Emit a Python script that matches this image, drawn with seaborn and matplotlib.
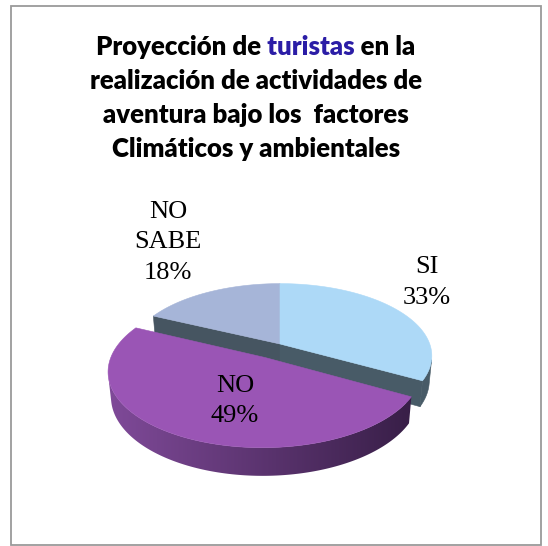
import numpy as np
import matplotlib
matplotlib.use("Agg")
import matplotlib.pyplot as plt
import seaborn as sns
from matplotlib.patches import Polygon, Rectangle
from matplotlib.transforms import Bbox, TransformedBbox

# ---------------- data ----------------
categories = ["SI", "NO", "NO\nSABE"]
values = [33, 49, 18]
title_lines = [
    "Proyección de turistas en la",
    "realización de actividades de",
    "aventura bajo los  factores",
    "Climáticos y ambientales",
]
highlight_word = "turistas"

# ---------------- style ----------------
top_colors = ["#ADD9F7", "#9A55B5", "#A6B5D8"]
wall_colors = ["#485B67", None, "#465561"]   # None -> gradient
grad_left, grad_right = (0.50, 0.29, 0.60), (0.22, 0.12, 0.28)
explode = [0.0, 0.21, 0.0]
label_pos = [(427, 273), (235, 392), (168, 218)]   # centre x, first baseline (px)

sns.set_theme(style="white")
plt.rcParams["font.family"] = ["Liberation Serif", "DejaVu Serif"]

W, H = 548, 546
fig = plt.figure(figsize=(W / 100, H / 100), dpi=100)
ax = fig.add_axes([0, 0, 1, 1])
ax.set_xlim(0, W)
ax.set_ylim(H, 0)
ax.axis("off")

# frame
ax.add_patch(Rectangle((10.5, 5.5), 530.5, 539.5, fill=False,
                       edgecolor="#9a9a9a", lw=1.3))

# ---------------- 3D perspective pie ----------------
cx, cy = 280.0, 344.0
phi = np.radians(28.0)
D = 5.376
f = 805.0
h = 0.188
cph, sph = np.cos(phi), np.sin(phi)
cam = np.array([0.0, -D * cph, D * sph])


def proj(X, Y, Z):
    qy = Y + D * cph
    qz = Z - D * sph
    depth = qy * cph - qz * sph
    up = qy * sph + qz * cph
    return cx + f * X / depth, cy - f * up / depth


def poly(pts, color, z, lw=0.4):
    p = Polygon(pts, closed=True, facecolor=color, edgecolor=color,
                lw=lw, zorder=z)
    ax.add_patch(p)
    return p


vals = np.array(values, dtype=float)
fr = vals / vals.sum()
starts = 90 - 360 * np.concatenate([[0], np.cumsum(fr)[:-1]])
ends = starts - 360 * fr
mids = np.radians((starts + ends) / 2)
order = np.argsort(-np.sin(mids))   # back slices first

for k, i in enumerate(order):
    t1, t2 = np.radians(starts[i]), np.radians(ends[i])
    m = mids[i]
    ox, oy = explode[i] * np.cos(m), explode[i] * np.sin(m)
    zb = 10 + 3 * k
    wc = wall_colors[i] if wall_colors[i] is not None else grad_left

    # radial faces
    for ang, sgn in ((t1, 1), (t2, -1)):
        n = np.array([-np.sin(ang), np.cos(ang)]) * sgn
        P = np.array([ox + 0.5 * np.cos(ang), oy + 0.5 * np.sin(ang)])
        if n @ (cam[:2] - P) > 0:
            pts = [proj(ox, oy, 0), proj(ox + np.cos(ang), oy + np.sin(ang), 0),
                   proj(ox + np.cos(ang), oy + np.sin(ang), -h), proj(ox, oy, -h)]
            poly(pts, wc, zb)

    # outer wall (front-facing part only)
    ts = np.linspace(t1, t2, 400)
    vis = []
    for t in ts:
        P = np.array([ox + np.cos(t), oy + np.sin(t)])
        vis.append(np.array([np.cos(t), np.sin(t)]) @ (cam[:2] - P) > 0)
    tv = ts[np.array(vis)]
    if len(tv) > 1:
        topa = [proj(ox + np.cos(t), oy + np.sin(t), 0) for t in tv]
        bota = [proj(ox + np.cos(t), oy + np.sin(t), -h) for t in tv[::-1]]
        pts = topa + bota
        if wall_colors[i] is not None:
            poly(pts, wc, zb + 1)
        else:
            wp = poly(pts, "none", zb + 1, lw=0)
            xs = np.array([p[0] for p in pts])
            ys = np.array([p[1] for p in pts])
            g = np.linspace(0, 1, 256)
            img = (np.array(grad_left)[None, :] * (1 - g[:, None])
                   + np.array(grad_right)[None, :] * g[:, None])[None, :, :]
            im = ax.imshow(img, extent=(xs.min(), xs.max(), ys.max(), ys.min()),
                           aspect="auto", zorder=zb + 1, interpolation="bilinear")
            im.set_clip_path(wp)

    # top face
    pts = [proj(ox, oy, 0)] + [proj(ox + np.cos(t), oy + np.sin(t), 0) for t in ts]
    poly(pts, top_colors[i], zb + 2)

ax.set_xlim(0, W)
ax.set_ylim(H, 0)

# ---------------- labels ----------------
for i, cat in enumerate(categories):
    lines = cat.split("\n") + [f"{values[i]}%"]
    x, y0 = label_pos[i]
    for j, s in enumerate(lines):
        ax.text(x, y0 + 30.5 * j, s, ha="center", va="baseline",
                fontsize=19, color="black", zorder=50)

# ---------------- title ----------------
tfont = dict(family=["Lato", "DejaVu Sans"], weight="heavy", fontsize=18.5)
fig.canvas.draw()
renderer = fig.canvas.get_renderer()


def text_w(s):
    t = ax.text(0, 100, s, **tfont)
    w = t.get_window_extent(renderer).width
    t.remove()
    return w


title_cx = 256
baselines = [55, 89, 123, 157]
for line, yb in zip(title_lines, baselines):
    if highlight_word in line:
        left = title_cx - text_w(line) / 2
        pre = line[:line.index(highlight_word) + len(highlight_word)]
        x_end = left + text_w(pre)
        x_start = x_end - text_w(highlight_word)
        sp = 3.0
        regions = [((0, x_start - sp), "black"), ((x_start - sp, x_end + sp), "#2B1DA6"),
                   ((x_end + sp, W), "black")]
        for (a, b), c in regions:
            t = ax.text(title_cx, yb, line, ha="center", va="baseline",
                        color=c, zorder=50, **tfont)
            t.set_clip_box(TransformedBbox(Bbox.from_extents(a, yb - 40, b, yb + 20),
                                           ax.transData))
            t.set_clip_on(True)
    else:
        ax.text(title_cx, yb, line, ha="center", va="baseline",
                color="black", zorder=50, **tfont)

fig.savefig("out.png", dpi=100)
